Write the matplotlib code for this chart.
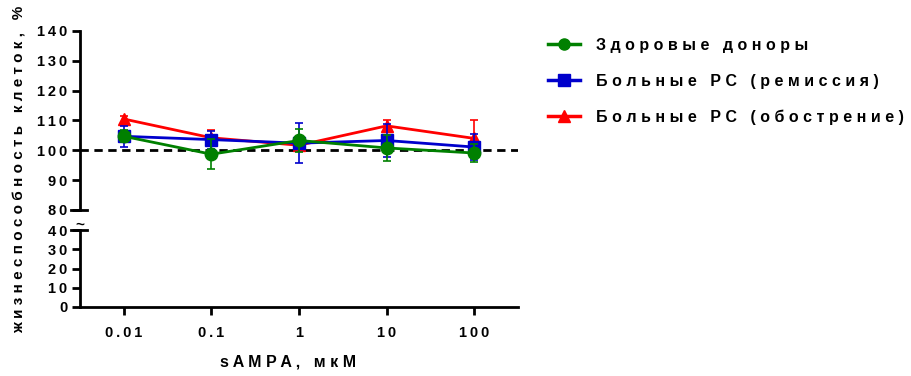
import matplotlib
matplotlib.use("Agg")
import matplotlib.pyplot as plt
from matplotlib.lines import Line2D
import numpy as np

plt.rcParams['font.family'] = ['Liberation Sans', 'DejaVu Sans']
plt.rcParams['font.weight'] = 'bold'

concentrations = ["0.01", "0.1", "1", "10", "100"]

healthy = [104.7, 98.7, 103.3, 100.8, 99.1]
healthy_err = [2.0, 5.0, 4.0, 4.5, 3.0]

remission = [104.7, 103.6, 102.4, 103.3, 101.1]
remission_err = [3.6, 3.0, 6.6, 5.5, 4.5]

relapse = [110.5, 104.2, 101.7, 108.2, 104.0]
relapse_err = [1.0, 2.5, 2.0, 1.8, 6.2]

labels = ["Здоровые доноры", "Больные РС (ремиссия)", "Больные РС (обострение)"]
colors = ["#008000", "#0000cc", "#ff0000"]
markers = ["o", "s", "^"]


def spaced(s, gap=" "):
    # wide tracking, GraphPad style
    return gap.join(s)


fig = plt.figure(figsize=(9.12, 3.76), dpi=100)
ax_top = fig.add_axes([80 / 912, 166 / 376, 438 / 912, 179 / 376])
ax_bot = fig.add_axes([80 / 912, 69 / 376, 438 / 912, 77 / 376])

x = np.arange(len(concentrations))
lw_axis = 2.0
tick_gap = "\u2009"

# drawn back to front: relapse, remission, healthy
series = [
    (relapse, relapse_err, colors[2], markers[2], 2),
    (remission, remission_err, colors[1], markers[1], 3),
    (healthy, healthy_err, colors[0], markers[0], 4),
]
for vals, err, col, mk, z in series:
    ax_top.errorbar(x, vals, yerr=err, color=col, marker=mk, markersize=9,
                    linewidth=2, elinewidth=1.2, capsize=3, capthick=1.2,
                    zorder=z)

ax_top.axhline(100, color="black", linestyle=(0, (3, 2)), linewidth=2, zorder=1)

ax_top.set_xlim(-0.5, 4.5)
ax_bot.set_xlim(-0.5, 4.5)
ax_top.set_ylim(80, 140)
ax_bot.set_ylim(0, 40)

ax_top.set_yticks(np.arange(80, 141, 10))
ax_top.set_yticklabels([spaced(str(v), tick_gap) for v in range(80, 141, 10)])
ax_bot.set_yticks(np.arange(0, 41, 10))
ax_bot.set_yticklabels([spaced(str(v), tick_gap) for v in range(0, 41, 10)])

ax_top.set_xticks([])
ax_bot.set_xticks(x)
ax_bot.set_xticklabels([spaced(c, tick_gap) for c in concentrations])

for ax in (ax_top, ax_bot):
    for side in ("top", "right"):
        ax.spines[side].set_visible(False)
    ax.spines["left"].set_linewidth(lw_axis)
    ax.spines["bottom"].set_linewidth(lw_axis)
    ax.tick_params(axis="both", width=lw_axis, length=6, labelsize=10.5, pad=3)
    for t in ax.get_yticklabels() + ax.get_xticklabels():
        t.set_fontweight("bold")
ax_top.spines["bottom"].set_visible(False)
ax_bot.tick_params(axis="x", pad=8)

# break marks on the y axis
ax_top.plot([-0.02, 0.016], [0, 0], transform=ax_top.transAxes, color="black",
            linewidth=lw_axis, clip_on=False)
ax_bot.plot([-0.02, 0.016], [1, 1], transform=ax_bot.transAxes, color="black",
            linewidth=lw_axis, clip_on=False)
ax_bot.text(0.0, 1.07, "~", transform=ax_bot.transAxes, ha="center", va="center",
            fontsize=11, fontweight="bold")

ax_bot.set_xlabel(spaced("sAMPA, мкМ"), fontsize=11.5, fontweight="bold")
ax_bot.xaxis.set_label_coords(0.475, -0.62)
fig.text(20 / 912, 0.55, spaced("жизнеспособность клеток, %"), rotation=90,
         ha="center", va="center", fontsize=11, fontweight="bold")

legend_handles = [Line2D([], [], color=c, marker=m, markersize=8, linewidth=2.5)
                  for c, m in zip(colors, markers)]
leg = fig.legend(legend_handles, [spaced(l) for l in labels], loc="upper left",
                 bbox_to_anchor=(535 / 912, 1 - 25 / 376), frameon=False,
                 fontsize=11.5, handlelength=2.0, handletextpad=1.0,
                 labelspacing=1.3, borderpad=0.3)
for t in leg.get_texts():
    t.set_fontweight("bold")

fig.savefig("out.png", dpi=100)
